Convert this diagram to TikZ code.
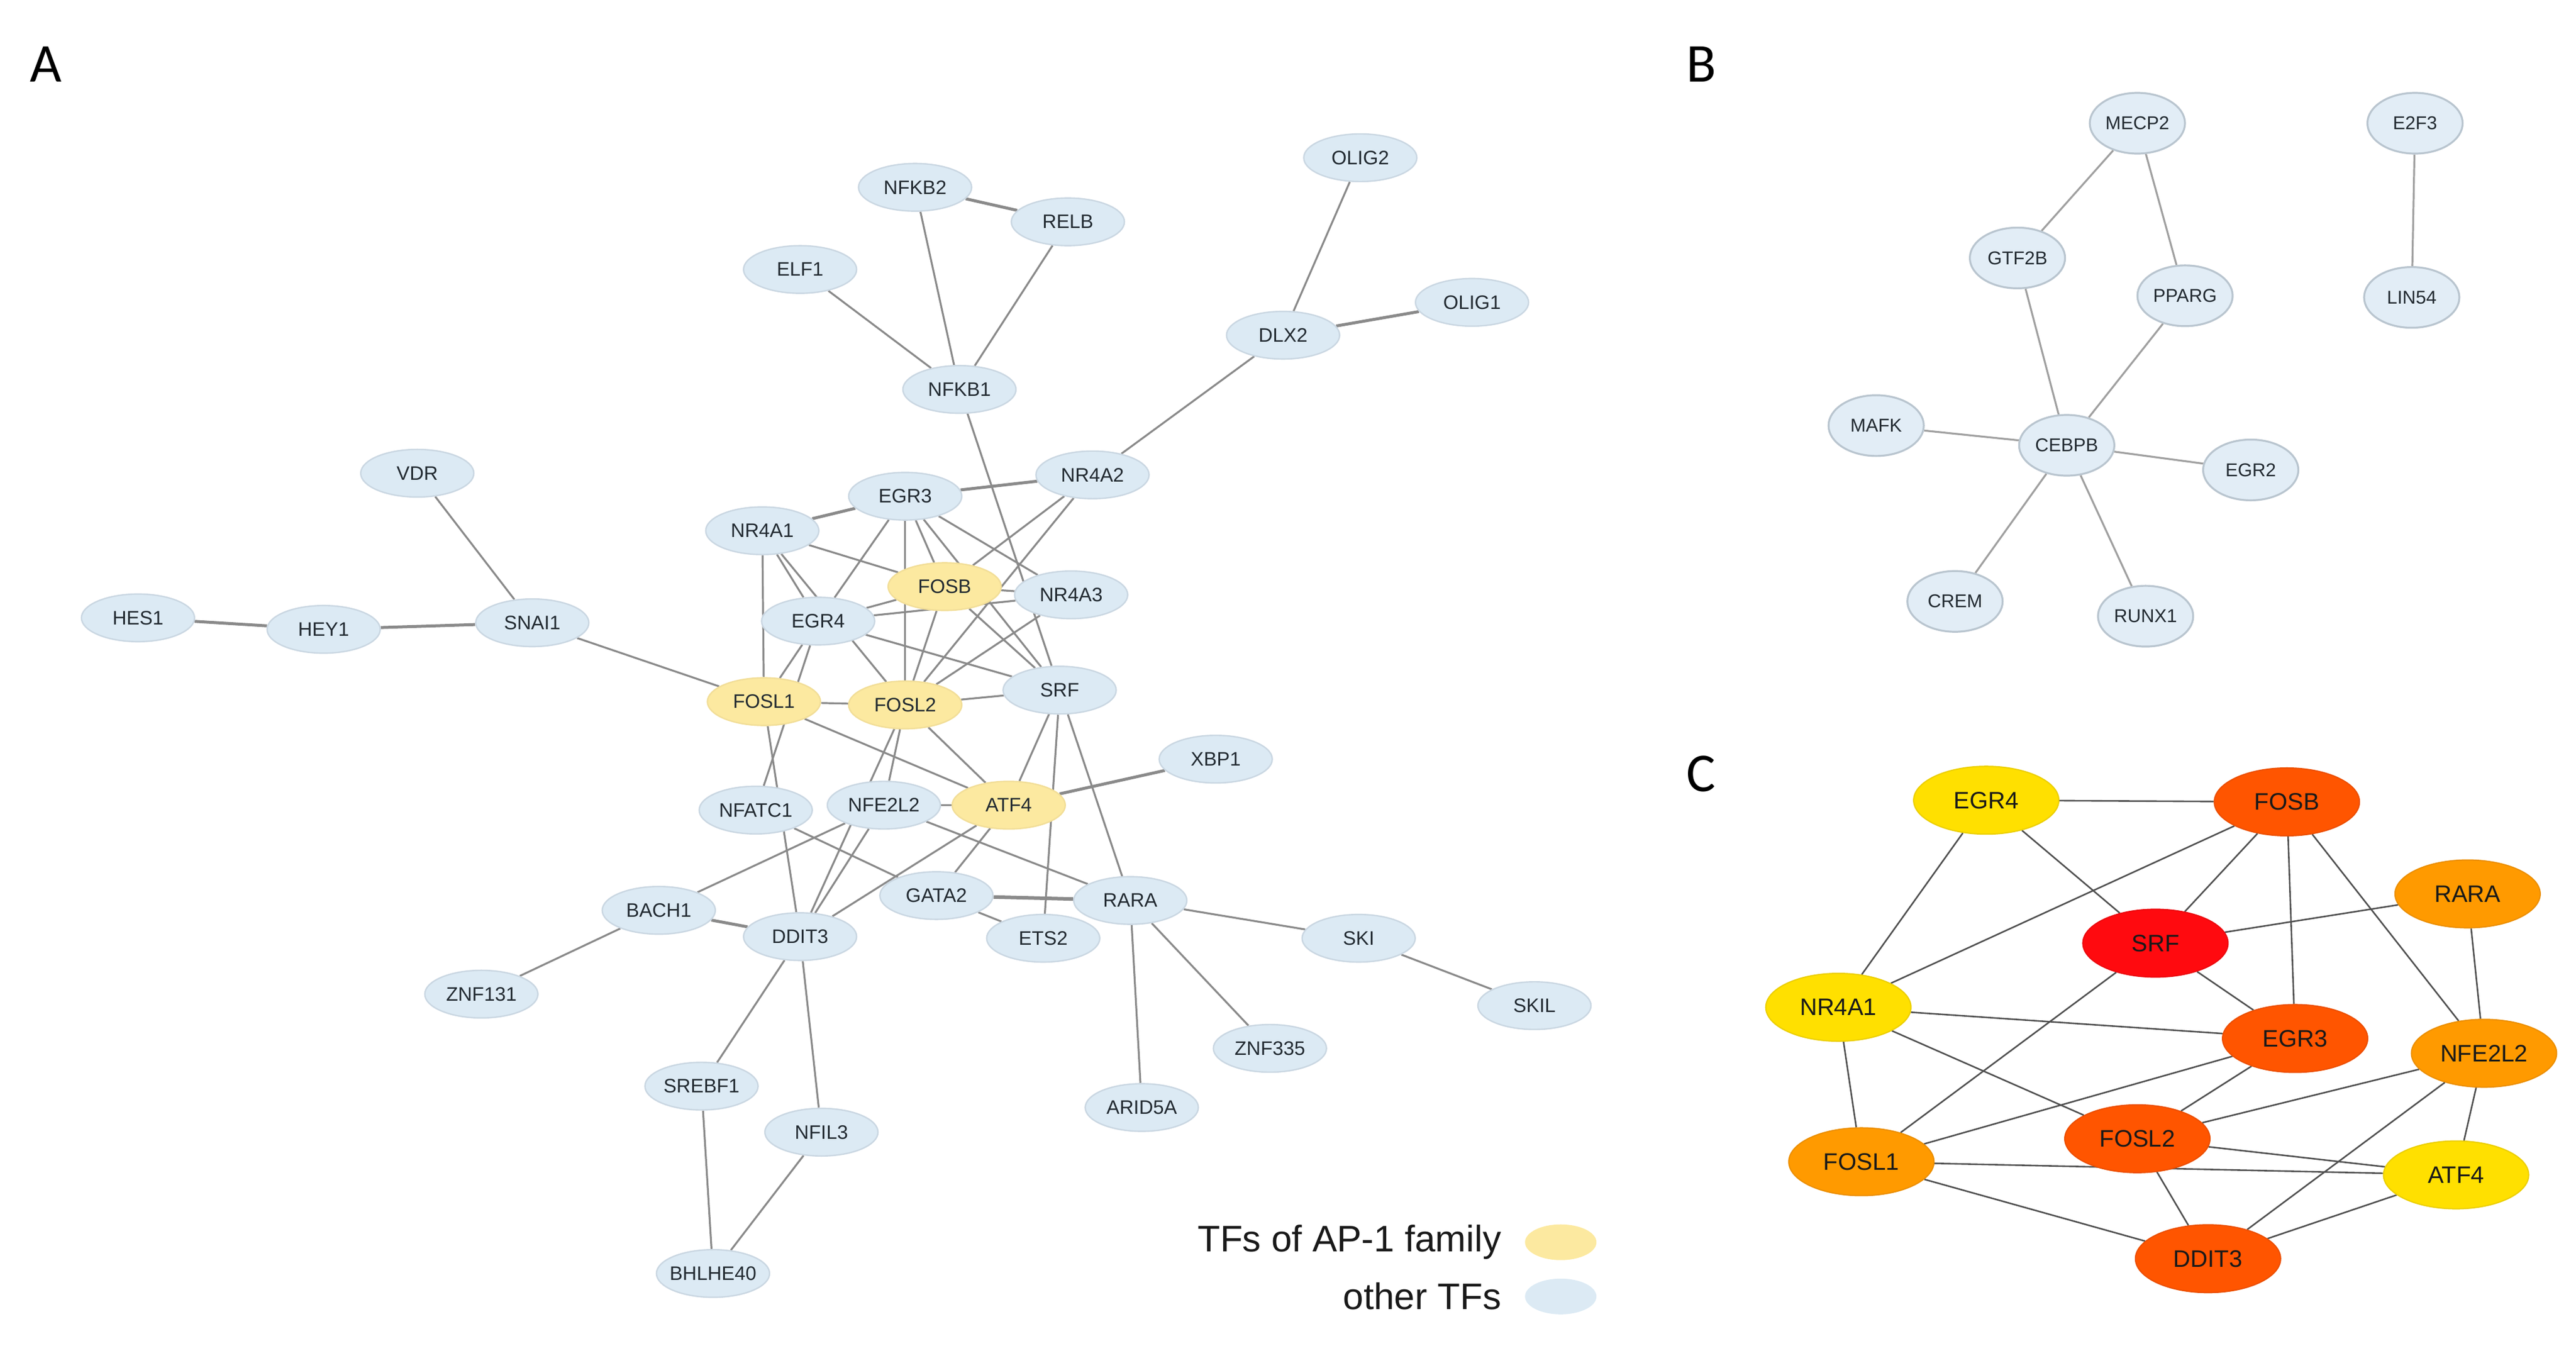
\documentclass[tikz,border=0pt]{standalone}
\usepackage{fontspec}
\setmainfont{Liberation Sans}
\newfontfamily\letterfont{Carlito}
\usetikzlibrary{shapes.geometric,backgrounds}
\definecolor{blueA}{HTML}{DCEAF4}
\definecolor{bordA}{HTML}{CAD7E2}
\definecolor{yelA}{HTML}{FCE9A0}
\definecolor{bordY}{HTML}{F2DE98}
\definecolor{blueB}{HTML}{E2EDF6}
\definecolor{bordB}{HTML}{B9C5CF}
\definecolor{txtA}{HTML}{222A31}
\definecolor{edgeAc}{HTML}{8A8A8A}
\definecolor{edgeBc}{HTML}{A0A0A0}
\definecolor{edgeCc}{HTML}{505050}
\definecolor{cgold}{HTML}{FFE000}
\definecolor{corange}{HTML}{FF9A00}
\definecolor{cred}{HTML}{FF5500}
\definecolor{csrf}{HTML}{FF0A0F}
\newcommand\mknode[4]{\node[#1] (#2) at (#3) {\makebox[0pt]{#4}};}
\tikzset{
  anode/.style={ellipse, draw=bordA, line width=0.6pt, fill=blueA, minimum width=47.5pt, minimum height=20pt, inner sep=0pt, font=\fontsize{8.2}{9}\selectfont, text=txtA},
  ynode/.style={anode, fill=yelA, draw=bordY},
  bnode/.style={ellipse, draw=bordB, line width=0.8pt, fill=blueB, minimum width=40pt, minimum height=25.5pt, inner sep=0pt, font=\fontsize{7.8}{9}\selectfont, text=txtA},
  cnode/.style={ellipse, line width=0.5pt, minimum width=61pt, minimum height=28.5pt, inner sep=0pt, font=\fontsize{10}{12}\selectfont, text=black!90},
  cgoldn/.style={cnode, fill=cgold, draw=cgold!92!black},
  corangen/.style={cnode, fill=corange, draw=corange!92!black},
  credn/.style={cnode, fill=cred, draw=cred!92!black},
  csrfn/.style={cnode, fill=csrf, draw=csrf!92!black},
  edgeA/.style={draw=edgeAc, line width=0.8pt},
  thickA/.style={draw=edgeAc, line width=1.25pt},
  edgeB/.style={draw=edgeBc, line width=0.8pt},
  edgeC/.style={draw=edgeCc, line width=0.65pt},
  panel/.style={font=\letterfont\fontsize{23}{26}\selectfont, inner sep=0pt},
  legtext/.style={font=\fontsize{15.5}{18}\selectfont, anchor=east, inner sep=0pt, text=black!90},
  legy/.style={ellipse, fill=yelA, draw=none, minimum width=30pt, minimum height=15pt, inner sep=0pt},
  legb/.style={ellipse, fill=blueA, draw=none, minimum width=30pt, minimum height=15pt, inner sep=0pt},
}
\begin{document}
\begin{tikzpicture}[x=0.69pt, y=-0.69pt]
\useasboundingbox (0,0) rectangle (1568,819);
% panel letters
\node[panel] (labA) at (28,39) {A};
\node[panel] (labB) at (1035.5,39) {B};
\node[panel] (labC) at (1035.5,471) {C};

% ---------- Panel A nodes ----------
\mknode{anode}{aOLIG2}{828,96}{OLIG2}
\mknode{anode}{aNFKB2}{557,114}{NFKB2}
\mknode{anode}{aRELB}{650,135}{RELB}
\mknode{anode}{aELF1}{487,164}{ELF1}
\mknode{anode}{aOLIG1}{896,184}{OLIG1}
\mknode{anode}{aDLX2}{781,204}{DLX2}
\mknode{anode}{aNFKB1}{584,237}{NFKB1}
\mknode{anode}{aVDR}{254,288}{VDR}
\mknode{anode}{aNRfourAtwo}{665,289}{NR4A2}
\mknode{anode}{aEGRthree}{551,302}{EGR3}
\mknode{anode}{aNRfourAone}{464,323}{NR4A1}
\mknode{ynode}{aFOSB}{575,357}{FOSB}
\mknode{anode}{aNRfourAthree}{652,362}{NR4A3}
\mknode{anode}{aHES1}{84,376}{HES1}
\mknode{anode}{aHEY1}{197,383}{HEY1}
\mknode{anode}{aSNAI1}{324,379}{SNAI1}
\mknode{anode}{aEGRfour}{498,378}{EGR4}
\mknode{ynode}{aFOSL1}{465,427}{FOSL1}
\mknode{ynode}{aFOSL2}{551,429}{FOSL2}
\mknode{anode}{aSRF}{645,420}{SRF}
\mknode{anode}{aXBP1}{740,462}{XBP1}
\mknode{anode}{aNFATC1}{460,493}{NFATC1}
\mknode{anode}{aNFE2L2}{538,490}{NFE2L2}
\mknode{ynode}{aATF4}{614,490}{ATF4}
\mknode{anode}{aGATA2}{570,545}{GATA2}
\mknode{anode}{aRARA}{688,548}{RARA}
\mknode{anode}{aETS2}{635,571}{ETS2}
\mknode{anode}{aBACH1}{401,554}{BACH1}
\mknode{anode}{aDDIT3}{487,570}{DDIT3}
\mknode{anode}{aSKI}{827,571}{SKI}
\mknode{anode}{aSKIL}{934,612}{SKIL}
\mknode{anode}{aZNF131}{293,605}{ZNF131}
\mknode{anode}{aZNF335}{773,638}{ZNF335}
\mknode{anode}{aSREBF1}{427,661}{SREBF1}
\mknode{anode}{aNFIL3}{500,689}{NFIL3}
\mknode{anode}{aARID5A}{695,674}{ARID5A}
\mknode{anode}{aBHLHE40}{434,775}{BHLHE40}

% legend
\node[legy] (legY) at (950,756) {};
\node[legb] (legB) at (950,789) {};
\node[legtext] (legYt) at (914,756) {TFs of AP-1 family};
\node[legtext] (legBt) at (914,789) {other TFs};

% ---------- Panel B nodes ----------
\mknode{bnode}{bMECP2}{1301,75}{MECP2}
\mknode{bnode}{bE2F3}{1470,75}{E2F3}
\mknode{bnode}{bGTF2B}{1228,157}{GTF2B}
\mknode{bnode}{bPPARG}{1330,180}{PPARG}
\mknode{bnode}{bLIN54}{1468,181}{LIN54}
\mknode{bnode}{bMAFK}{1142,259}{MAFK}
\mknode{bnode}{bCEBPB}{1258,271}{CEBPB}
\mknode{bnode}{bEGR2}{1370,286}{EGR2}
\mknode{bnode}{bCREM}{1190,366}{CREM}
\mknode{bnode}{bRUNX1}{1306,375}{RUNX1}

% ---------- Panel C nodes ----------
\mknode{cgoldn}{cEGRfour}{1209,487}{EGR4}
\mknode{credn}{cFOSB}{1392,488}{FOSB}
\mknode{corangen}{cRARA}{1502,544}{RARA}
\mknode{csrfn}{cSRF}{1312,574}{SRF}
\mknode{cgoldn}{cNRfourAone}{1119,613}{NR4A1}
\mknode{credn}{cEGRthree}{1397,632}{EGR3}
\mknode{corangen}{cNFE2L2}{1512,641}{NFE2L2}
\mknode{credn}{cFOSL2}{1301,693}{FOSL2}
\mknode{corangen}{cFOSL1}{1133,707}{FOSL1}
\mknode{cgoldn}{cATF4}{1495,715}{ATF4}
\mknode{credn}{cDDIT3}{1344,766}{DDIT3}

\begin{scope}[on background layer]
% ---------- Panel A edges ----------
\draw[thickA] (aNFKB2) -- (aRELB);
\draw[edgeA] (aNFKB2) -- (aNFKB1);
\draw[edgeA] (aRELB) -- (aNFKB1);
\draw[edgeA] (aELF1) -- (aNFKB1);
\draw[edgeA] (aNFKB1) -- (aSRF);
\draw[edgeA] (aOLIG2) -- (aDLX2);
\draw[thickA] (aDLX2) -- (aOLIG1);
\draw[edgeA] (aDLX2) -- (aNRfourAtwo);
\draw[edgeA] (aVDR) -- (aSNAI1);
\draw[thickA] (aHES1) -- (aHEY1);
\draw[thickA] (aHEY1) -- (aSNAI1);
\draw[edgeA] (aSNAI1) -- (aFOSL1);
\draw[thickA] (aNRfourAone) -- (aEGRthree);
\draw[thickA] (aEGRthree) -- (aNRfourAtwo);
\draw[edgeA] (aNRfourAone) -- (aFOSB);
\draw[edgeA] (aNRfourAone) -- (aEGRfour);
\draw[edgeA] (aNRfourAone) -- (aFOSL2);
\draw[edgeA] (aNRfourAone) -- (aFOSL1);
\draw[edgeA] (aEGRthree) -- (aEGRfour);
\draw[edgeA] (aEGRthree) -- (aFOSL2);
\draw[edgeA] (aEGRthree) -- (aFOSB);
\draw[edgeA] (aEGRthree) -- (aSRF);
\draw[edgeA] (aEGRthree) -- (aNRfourAthree);
\draw[edgeA] (aNRfourAtwo) -- (aFOSB);
\draw[edgeA] (aNRfourAtwo) -- (aFOSL2);
\draw[edgeA] (aFOSB) -- (aNRfourAthree);
\draw[edgeA] (aEGRfour) -- (aFOSB);
\draw[edgeA] (aEGRfour) -- (aNRfourAthree);
\draw[edgeA] (aEGRfour) -- (aSRF);
\draw[edgeA] (aEGRfour) -- (aFOSL1);
\draw[edgeA] (aEGRfour) -- (aNFATC1);
\draw[edgeA] (aFOSB) -- (aSRF);
\draw[edgeA] (aFOSB) -- (aFOSL2);
\draw[edgeA] (aNRfourAthree) -- (aFOSL2);
\draw[edgeA] (aFOSL1) -- (aFOSL2);
\draw[edgeA] (aFOSL1) -- (aATF4);
\draw[edgeA] (aFOSL1) -- (aDDIT3);
\draw[edgeA] (aFOSL2) -- (aSRF);
\draw[edgeA] (aFOSL2) -- (aNFE2L2);
\draw[edgeA] (aFOSL2) -- (aDDIT3);
\draw[edgeA] (aFOSL2) -- (aATF4);
\draw[edgeA] (aSRF) -- (aATF4);
\draw[edgeA] (aSRF) -- (aETS2);
\draw[edgeA] (aSRF) -- (aRARA);
\draw[thickA] (aATF4) -- (aXBP1);
\draw[edgeA] (aNFE2L2) -- (aATF4);
\draw[edgeA] (aNFE2L2) -- (aRARA);
\draw[edgeA] (aNFE2L2) -- (aBACH1);
\draw[edgeA] (aNFE2L2) -- (aDDIT3);
\draw[edgeA] (aNFATC1) -- (aGATA2);
\draw[edgeA] (aATF4) -- (aDDIT3);
\draw[edgeA] (aATF4) -- (aGATA2);
\draw[draw=edgeAc, line width=1.5pt] (aGATA2) -- (aRARA);
\draw[edgeA] (aGATA2) -- (aETS2);
\draw[thickA] (aBACH1) -- (aDDIT3);
\draw[edgeA] (aBACH1) -- (aZNF131);
\draw[edgeA] (aDDIT3) -- (aSREBF1);
\draw[edgeA] (aDDIT3) -- (aNFIL3);
\draw[edgeA] (aSREBF1) -- (aBHLHE40);
\draw[edgeA] (aNFIL3) -- (aBHLHE40);
\draw[edgeA] (aRARA) -- (aSKI);
\draw[edgeA] (aSKI) -- (aSKIL);
\draw[edgeA] (aRARA) -- (aZNF335);
\draw[edgeA] (aRARA) -- (aARID5A);
% ---------- Panel B edges ----------
\draw[edgeB] (bMECP2) -- (bGTF2B);
\draw[edgeB] (bMECP2) -- (bPPARG);
\draw[edgeB] (bGTF2B) -- (bCEBPB);
\draw[edgeB] (bPPARG) -- (bCEBPB);
\draw[edgeB] (bMAFK) -- (bCEBPB);
\draw[edgeB] (bCEBPB) -- (bEGR2);
\draw[edgeB] (bCEBPB) -- (bCREM);
\draw[edgeB] (bCEBPB) -- (bRUNX1);
\draw[edgeB] (bE2F3) -- (bLIN54);
% ---------- Panel C edges ----------
\draw[edgeC] (cEGRfour) -- (cFOSB);
\draw[edgeC] (cEGRfour) -- (cSRF);
\draw[edgeC] (cEGRfour) -- (cNRfourAone);
\draw[edgeC] (cFOSB) -- (cNRfourAone);
\draw[edgeC] (cFOSB) -- (cSRF);
\draw[edgeC] (cFOSB) -- (cEGRthree);
\draw[edgeC] (cFOSB) -- (cNFE2L2);
\draw[edgeC] (cRARA) -- (cSRF);
\draw[edgeC] (cRARA) -- (cNFE2L2);
\draw[edgeC] (cSRF) -- (cEGRthree);
\draw[edgeC] (cSRF) -- (cFOSL1);
\draw[edgeC] (cNRfourAone) -- (cEGRthree);
\draw[edgeC] (cNRfourAone) -- (cFOSL2);
\draw[edgeC] (cNRfourAone) -- (cFOSL1);
\draw[edgeC] (cEGRthree) -- (cFOSL1);
\draw[edgeC] (cEGRthree) -- (cFOSL2);
\draw[edgeC] (cNFE2L2) -- (cFOSL2);
\draw[edgeC] (cNFE2L2) -- (cDDIT3);
\draw[edgeC] (cNFE2L2) -- (cATF4);
\draw[edgeC] (cFOSL2) -- (cATF4);
\draw[edgeC] (cFOSL1) -- (cATF4);
\draw[edgeC] (cFOSL2) -- (cDDIT3);
\draw[edgeC] (cFOSL1) -- (cDDIT3);
\draw[edgeC] (cATF4) -- (cDDIT3);
\end{scope}
\end{tikzpicture}
\end{document}
